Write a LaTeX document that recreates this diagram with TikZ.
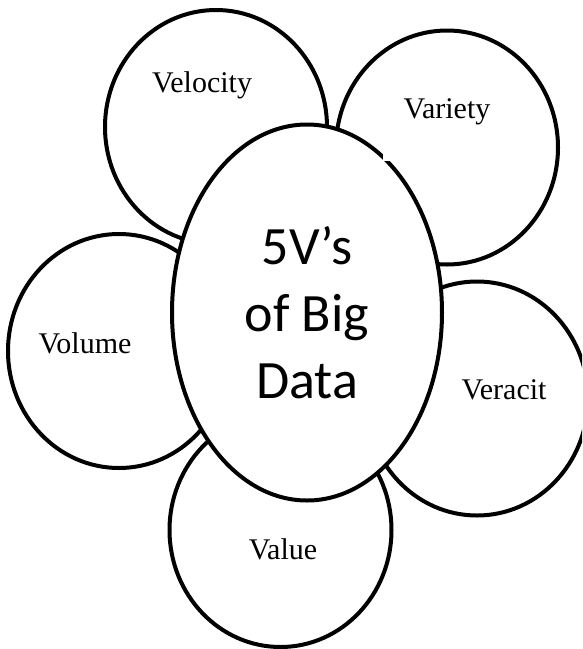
\documentclass[tikz,border=0pt]{standalone}
\usepackage{fontspec}
\setmainfont{Liberation Serif}
\newfontfamily\corefont{Carlito}
\usetikzlibrary{shapes.geometric}
\begin{document}
\begin{tikzpicture}[x=1pt,y=-1pt,
  petal/.style={ellipse,draw=black,line width=4pt,fill=white,minimum width=222pt,minimum height=234pt,inner sep=0pt},
  lbl/.style={anchor=base,inner sep=0pt,font=\fontsize{30}{36}\selectfont},
  coreshape/.style={ellipse,draw=black,line width=4pt,fill=white,minimum width=270pt,minimum height=376pt,inner sep=0pt,align=center,font=\corefont\fontsize{54}{67}\selectfont}]
\useasboundingbox (0,0) rectangle (582,649);
\clip (0,0) rectangle (582,649);
\fill[white] (0,0) rectangle (582,649);
\node[petal] (velocity) at (216,127) {};
\node[petal] (variety) at (447,147.5) {};
\node[petal] (volume) at (119,351) {};
\node[petal] (veracity) at (477,398.5) {};
\node[petal] (value) at (280.5,530) {};
\node[lbl] (velocitylabel) at (202,92) {Velocity};
\node[lbl] (varietylabel) at (447,118) {Variety};
\node[lbl] (volumelabel) at (85,353) {Volume};
\node[lbl] (veracitylabel) at (504,399) {Veracit};
\node[lbl] (valuelabel) at (283,559) {Value};
\node[coreshape] (core) at (307,312.5) {5V’s\\of Big\\Data};
\fill[white] (382.5,145) rectangle (392,160.7);
\end{tikzpicture}
\end{document}
